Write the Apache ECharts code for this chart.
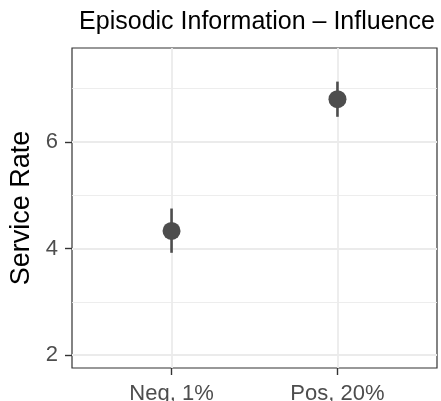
<!DOCTYPE html>
<html>
<head>
<meta charset="utf-8">
<script src="https://cdn.jsdelivr.net/npm/echarts@6/dist/echarts.min.js"></script>
<style>
  html, body { margin: 0; padding: 0; background: #fff; }
  #chart { width: 441px; height: 401px; }
</style>
</head>
<body>
<div id="chart"></div>
<script>
// data
var categories = ['Neg, 1%', 'Pos, 20%'];
var means = [4.33, 6.80];
var lower = [3.92, 6.47];
var upper = [4.75, 7.13];
var yTicks = [2, 4, 6];
var yMinor = [3, 5, 7];

var chart = echarts.init(document.getElementById('chart'));
var font = 'Liberation Sans, Arial, Helvetica, sans-serif';

var pts = means.map(function (v, i) { return [i + 1, v]; });
var bars = means.map(function (v, i) { return [i + 1, lower[i], upper[i]]; });

var gridLines = [];
yTicks.forEach(function (v) { gridLines.push({ yAxis: v, lineStyle: { width: 1.8 } }); });
yMinor.forEach(function (v) { gridLines.push({ yAxis: v, lineStyle: { width: 0.9 } }); });
categories.forEach(function (c, i) { gridLines.push({ xAxis: i + 1, lineStyle: { width: 1.8 } }); });

var option = {
  animation: false,
  title: {
    text: 'Episodic Information \u2013 Influence',
    left: 252, top: 5, textAlign: 'center',
    textStyle: { fontFamily: font, fontSize: 25, fontWeight: 'normal', color: '#000' }
  },
  grid: {
    left: 72, right: 4, top: 48, bottom: 33,
    outerBoundsMode: 'none', containLabel: false,
    show: true, borderColor: '#333', borderWidth: 1.2, backgroundColor: '#fff'
  },
  xAxis: {
    type: 'value', min: 0.4, max: 2.6,
    axisLine: { show: false },
    splitLine: { show: false },
    axisTick: { show: true, length: 7, lineStyle: { color: '#333', width: 1.4 }, customValues: [1, 2] },
    axisLabel: {
      customValues: [1, 2], margin: 15,
      fontFamily: font, fontSize: 22, color: '#4d4d4d',
      formatter: function (v) { return categories[Math.round(v) - 1] || ''; }
    }
  },
  yAxis: {
    type: 'value', min: 1.76, max: 7.76,
    name: 'Service Rate', nameLocation: 'middle', nameGap: 37, nameRotate: 90,
    nameTextStyle: { fontFamily: font, fontSize: 27, color: '#000' },
    axisLine: { show: false },
    splitLine: { show: false },
    axisTick: { show: true, length: 7, lineStyle: { color: '#333', width: 1.4 }, customValues: yTicks },
    axisLabel: { customValues: yTicks, margin: 14, fontFamily: font, fontSize: 22, color: '#4d4d4d' }
  },
  series: [
    {
      type: 'line', data: [], silent: true, z: 1,
      markLine: {
        silent: true, symbol: 'none', label: { show: false }, z: 1,
        lineStyle: { color: '#ebebeb', type: 'solid' },
        data: gridLines
      }
    },
    {
      type: 'custom', data: bars, silent: true, z: 5,
      renderItem: function (params, api) {
        var top = api.coord([api.value(0), api.value(2)]);
        var bot = api.coord([api.value(0), api.value(1)]);
        return {
          type: 'line',
          shape: { x1: top[0], y1: top[1], x2: bot[0], y2: bot[1] },
          style: { stroke: '#4d4d4d', lineWidth: 2.6 }
        };
      }
    },
    {
      type: 'scatter', data: pts, symbol: 'circle', symbolSize: 18, z: 6,
      itemStyle: { color: '#4d4d4d', opacity: 1 }
    }
  ]
};
chart.setOption(option);
</script>
</body>
</html>
